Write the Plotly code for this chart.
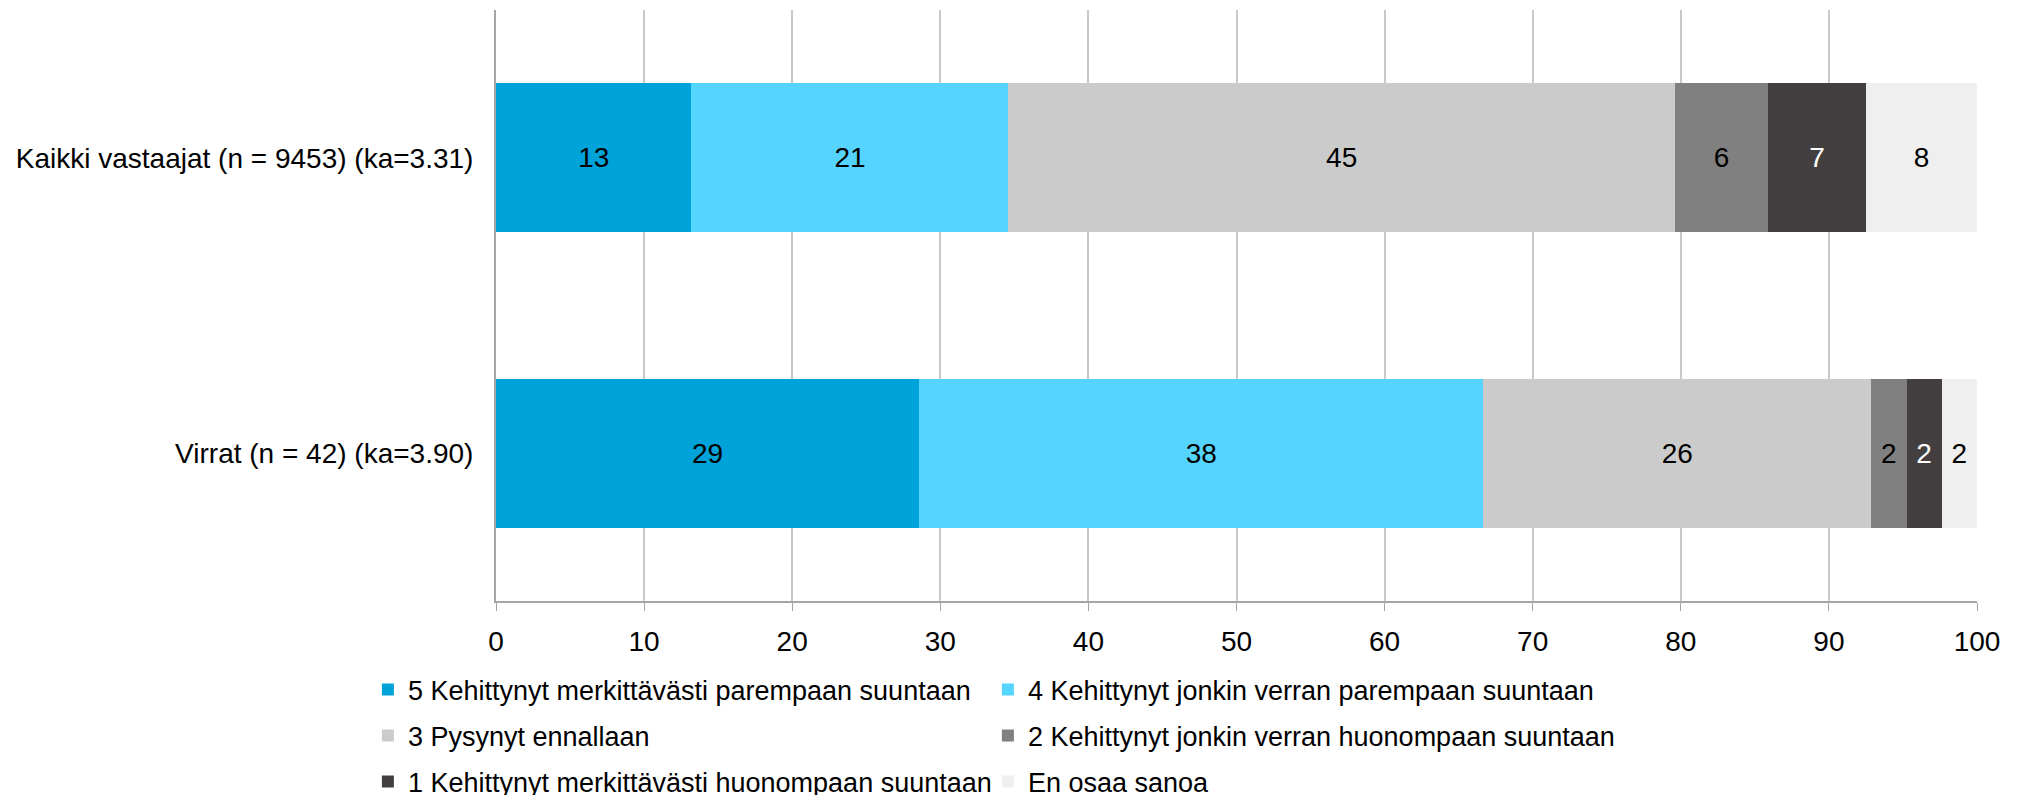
import plotly.graph_objects as go

categories = ["Kaikki vastaajat (n = 9453) (ka=3.31)", "Virrat (n = 42) (ka=3.90)"]
series_names = [
    "5 Kehittynyt merkittävästi parempaan suuntaan",
    "4 Kehittynyt jonkin verran parempaan suuntaan",
    "3 Pysynyt ennallaan",
    "2 Kehittynyt jonkin verran huonompaan suuntaan",
    "1 Kehittynyt merkittävästi huonompaan suuntaan",
    "En osaa sanoa",
]
s5 = [13.2, 28.57]
s4 = [21.4, 38.10]
s3 = [45.0, 26.19]
s2 = [6.3, 2.38]
s1 = [6.6, 2.38]
s0 = [7.5, 2.38]
series_values = [s5, s4, s3, s2, s1, s0]
colors = ["#00A3D9", "#55D4FF", "#CBCBCB", "#808080", "#433F40", "#EFEFEF"]
text_colors = ["#000000", "#000000", "#000000", "#000000", "#FFFFFF", "#000000"]
x_ticks = [0, 10, 20, 30, 40, 50, 60, 70, 80, 90, 100]

FONT = "Liberation Sans, Arial, sans-serif"
FS = 28
LFS = 27
legend_ids = ["legend", "legend2", "legend3", "legend4", "legend5", "legend6"]

fig = go.Figure()
for name, vals, col, tcol, lg in zip(series_names, series_values, colors, text_colors, legend_ids):
    fig.add_trace(go.Bar(
        y=categories, x=vals, name=name, orientation="h",
        marker=dict(color=col, line=dict(width=0)),
        text=[f"{v:.0f}" for v in vals], texttemplate="%{text}",
        textposition="inside", insidetextanchor="middle", textangle=0,
        constraintext="none",
        textfont=dict(family=FONT, size=FS, color=tcol),
        legend=lg,
    ))

leg_common = dict(orientation="h", xref="paper", yref="paper", xanchor="left", yanchor="middle",
                  bgcolor="rgba(0,0,0,0)",
                  font=dict(family=FONT, size=LFS, color="#000000"), itemclick=False,
                  tracegroupgap=0, traceorder="normal")
PLOT_TOP, PLOT_BOT = 10, 601
PH = PLOT_BOT - PLOT_TOP
PW = 1481

def ypos(py):
    return (PLOT_BOT - py) / PH

LX1 = -0.0865
LX2 = LX1 + 620 / PW
row_y = [690, 736, 782]

legends = {}
for i, lg in enumerate(legend_ids):
    legends[lg] = dict(x=(LX1 if i % 2 == 0 else LX2), y=ypos(row_y[i // 2]), **leg_common)

fig.update_layout(
    width=2024, height=795,
    margin=dict(l=488, r=55, t=2, b=202, autoexpand=False),
    barmode="stack", bargap=0.496,
    plot_bgcolor="white", paper_bgcolor="white",
    font=dict(family=FONT, size=FS, color="#000000"),
    showlegend=True,
    **legends,
    xaxis=dict(range=[0, 100], tickvals=x_ticks, ticktext=[str(t) for t in x_ticks],
               showgrid=True, gridcolor="#C8C8C8", gridwidth=2,
               showline=True, linecolor="#A6A6A6", linewidth=2,
               ticks="outside", ticklen=8, tickcolor="#A6A6A6", tickwidth=1,
               ticklabelstandoff=6,
               tickfont=dict(family=FONT, size=FS, color="#000000"),
               zeroline=False, fixedrange=True, automargin=False),
    yaxis=dict(categoryorder="array", categoryarray=categories, autorange="reversed",
               showline=True, linecolor="#A6A6A6", linewidth=2,
               ticks="", ticklabelstandoff=15,
               tickfont=dict(family=FONT, size=FS, color="#000000"),
               showgrid=False, fixedrange=True, automargin=False),
)

fig.write_html("out.html")
